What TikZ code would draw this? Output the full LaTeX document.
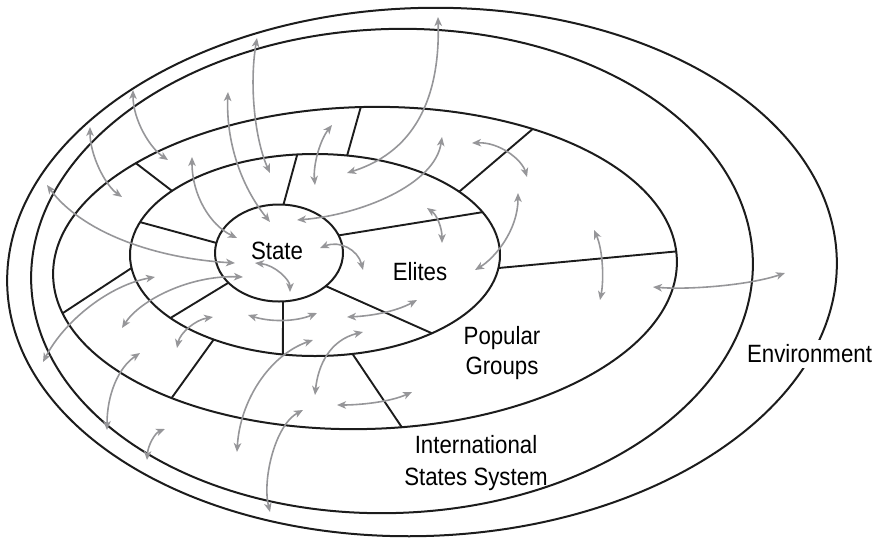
\documentclass[tikz,border=0pt]{standalone}
\usepackage{fontspec}
\setmainfont{Liberation Sans}[FakeStretch=0.89]
\usetikzlibrary{arrows.meta}
\definecolor{arrowgray}{RGB}{150,150,153}
\definecolor{linek}{RGB}{28,28,28}
\begin{document}
\begin{tikzpicture}[x=1pt,y=-1pt,
  ring/.style={draw=linek, line width=2pt},
  divline/.style={draw=linek, line width=1.9pt},
  link/.style={draw=arrowgray, line width=1.6pt,
    >={Stealth[length=9pt,width=7.5pt,inset=2.5pt]}, <->},
  lbl/.style={font=\fontsize{25}{31}\selectfont, inner sep=0pt, align=center}]
\useasboundingbox (0,0) rectangle (875,539);

% ---- rings ----
\begin{scope}[shift={(422,272)}, rotate=2]
  \draw[ring] (0,0) ellipse [x radius=415pt, y radius=264pt];
\end{scope}
\begin{scope}[shift={(392,271)}, rotate=2]
  \draw[ring] (0,0) ellipse [x radius=361pt, y radius=242pt];
\end{scope}
\begin{scope}[shift={(365,268)}, rotate=1.5]
  \draw[ring] (0,0) ellipse [x radius=312pt, y radius=161pt];
  \coordinate (o1) at (136.5:312pt and 161pt);
  \coordinate (o2) at (90:312pt and 161pt);
  \coordinate (o3) at (56.7:312pt and 161pt);
  \coordinate (o4) at (3:312pt and 161pt);
  \coordinate (o5) at (-84:312pt and 161pt);
  \coordinate (o6) at (-129.1:312pt and 161pt);
  \coordinate (o7) at (-166.6:312pt and 161pt);
\end{scope}
\begin{scope}[shift={(315,255)}]
  \draw[ring] (0,0) ellipse [x radius=185pt, y radius=101pt];
  \coordinate (e1) at (140.6:185pt and 101pt);
  \coordinate (e2) at (80:185pt and 101pt);
  \coordinate (e3) at (38.8:185pt and 101pt);
  \coordinate (e4) at (-7.4:185pt and 101pt);
  \coordinate (e5) at (-78.3:185pt and 101pt);
  \coordinate (e6) at (-123.2:185pt and 101pt);
  \coordinate (e7) at (187.4:185pt and 101pt);
  \coordinate (ea) at (161:185pt and 101pt);
  \coordinate (eb) at (95.5:185pt and 101pt);
  \coordinate (ec) at (25.1:185pt and 101pt);
  \coordinate (ed) at (-50.8:185pt and 101pt);
  \coordinate (ee) at (-100:185pt and 101pt);
  \coordinate (ef) at (-141.4:185pt and 101pt);
\end{scope}
\begin{scope}[shift={(279,253)}]
  \draw[ring] (0,0) ellipse [x radius=64pt, y radius=48.5pt];
  \coordinate (sa) at (168:64pt and 48.5pt);
  \coordinate (sb) at (86:64pt and 48.5pt);
  \coordinate (sc) at (21.3:64pt and 48.5pt);
  \coordinate (sd) at (-43:64pt and 48.5pt);
  \coordinate (se) at (-86.4:64pt and 48.5pt);
  \coordinate (sf) at (-142.2:64pt and 48.5pt);
\end{scope}

% ---- dividers: popular groups ring ----
\foreach \k in {1,...,7} { \draw[divline] (o\k) -- (e\k); }
% ---- dividers: elites ring ----
\foreach \k in {a,b,c,d,e,f} { \draw[divline] (s\k) -- (e\k); }

% ---- interaction arrows ----
\draw[link] (257,38) .. controls (249,85) and (255,140) .. (270,173);
\draw[link] (228,92) .. controls (226,140) and (240,185) .. (270,222);
\draw[link] (192,157) .. controls (192,195) and (210,225) .. (237,238);
\draw[link] (133,90) .. controls (133,120) and (150,148) .. (168,160);
\draw[link] (90,127) .. controls (90,155) and (105,185) .. (122,197);
\draw[link] (47,185) .. controls (80,230) and (150,258) .. (235,263);
\draw[link] (438,17) .. controls (440,90) and (420,150) .. (347,173);
\draw[link] (332,125) .. controls (320,140) and (313,165) .. (315,185);
\draw[link] (442,137) .. controls (435,185) and (360,215) .. (297,220);
\draw[link] (320,248) .. controls (340,240) and (358,250) .. (363,270);
\draw[link] (427,208) .. controls (437,215) and (442,228) .. (442,243);
\draw[link] (243,277) .. controls (190,275) and (140,300) .. (122,328);
\draw[link] (255,263) .. controls (275,265) and (290,280) .. (290,292);
\draw[link] (248,315) .. controls (270,322) and (295,322) .. (317,313);
\draw[link] (347,317) .. controls (370,316) and (395,312) .. (417,300);
\draw[link] (213,317) .. controls (195,320) and (180,333) .. (177,348);
\draw[link] (155,277) .. controls (110,285) and (65,320) .. (43,362);
\draw[link] (140,353) .. controls (118,368) and (107,395) .. (107,430);
\draw[link] (165,429) .. controls (155,433) and (148,445) .. (147,460);
\draw[link] (313,340) .. controls (270,355) and (240,400) .. (237,452);
\draw[link] (363,332) .. controls (330,340) and (318,365) .. (315,395);
\draw[link] (412,392) .. controls (390,402) and (360,405) .. (337,405);
\draw[link] (303,410) .. controls (275,425) and (262,480) .. (270,512);
\draw[link] (472,143) .. controls (500,142) and (522,160) .. (527,177);
\draw[link] (518,193) .. controls (518,230) and (495,258) .. (475,270);
\draw[link] (594,230) .. controls (603,250) and (604,280) .. (600,300);
\draw[link] (653,287) .. controls (690,290) and (750,285) .. (785,273);

% ---- labels (base anchor = baseline of last line) ----
\node[lbl, anchor=base] (state) at (277,259.3) {State};
\node[lbl, anchor=base] (elites) at (420,280) {Elites};
\node[lbl, anchor=base, font=\fontsize{25}{30}\selectfont] (popular) at (502,374) {Popular\\Groups};
\node[lbl, anchor=base, font=\fontsize{25}{32}\selectfont] (intl) at (476,485) {International\\States System};
\node[lbl, anchor=base, fill=white, inner xsep=1pt, inner ysep=5pt] (env) at (809.5,362.7) {Environment};
\end{tikzpicture}
\end{document}
